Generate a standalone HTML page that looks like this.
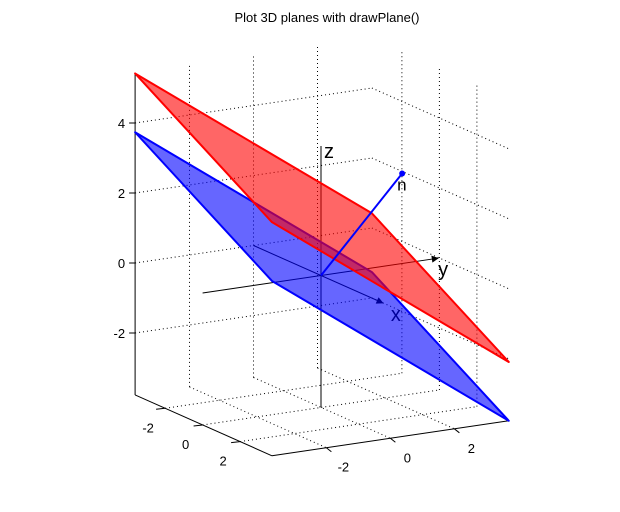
<!DOCTYPE html>
<html><head><meta charset="utf-8"><style>
body{margin:0;background:#fff}
svg{display:block;font-family:"Liberation Sans",Arial,sans-serif}
</style></head><body>
<svg id="chart" width="620" height="512" viewBox="0 0 620 512">
<rect width="620" height="512" fill="#fff"/>
<text x="327" y="22" font-size="13" text-anchor="middle">Plot 3D planes with drawPlane()</text>
<g id="grid"></g><g id="axes3"></g><g id="planes"></g><g id="ticks"></g>
</svg>
<script>
const uLim = [-3.6, 3.7];
const vLim = [-3.7, 3.7];
const zLim = [-3.77, 5.43];
const uTicks = [-2, 0, 2];
const vTicks = [-2, 0, 2];
const zTicks = [-2, 0, 2, 4];
const planeSlope = [-0.344, -0.675];
const planeOffsets = [0, 1.68];
const planeColors = ["blue", "red"];
const normalVec = [1, 1.95, 2.89];

const NS = "http://www.w3.org/2000/svg";
function P(u, v, z) { return [321 + 18.75 * u + 32 * v, 275.5 + 8.33 * u - 4.73 * v - 35 * z]; }
function mk(tag, parent, attrs) {
  const e = document.createElementNS(NS, tag);
  for (const k in attrs) e.setAttribute(k, attrs[k]);
  parent.appendChild(e); return e;
}
function line(parent, a, b, attrs) {
  return mk("line", parent, Object.assign({x1: a[0], y1: a[1], x2: b[0], y2: b[1]}, attrs));
}
const grid = document.getElementById("grid");
const dot = {stroke: "#000", "stroke-width": 1, "stroke-dasharray": "1,3"};
const [u0, u1] = uLim, [v0, v1] = vLim, [z0, z1] = zLim;
vTicks.forEach(v => { const l = line(grid, P(u0, v, z0), P(u0, v, z1), dot);

 });
zTicks.forEach(z => { const l = line(grid, P(u0, v0, z), P(u0, v1, z), dot);

 });
uTicks.forEach(u => { const l = line(grid, P(u, v1, z0), P(u, v1, z1), dot);

 });
zTicks.forEach(z => { const l = line(grid, P(u0, v1, z), P(u1, v1, z), dot);

 });
uTicks.forEach(u => { const l = line(grid, P(u, v0, z0), P(u, v1, z0), dot);

 });
vTicks.forEach(v => { const l = line(grid, P(u0, v, z0), P(u1, v, z0), dot);

 });
const solid = {stroke: "#000", "stroke-width": 1};
[[P(u0, v0, z0), P(u0, v0, z1)], [P(u0, v0, z0), P(u1, v0, z0)], [P(u1, v0, z0), P(u1, v1, z0)]].forEach(([a, b]) => {
  const l = line(grid, a, b, solid);
  
  
});
const tk = document.getElementById("ticks");
zTicks.forEach(z => {
  const p = P(u0, v0, z);
  const l = line(tk, p, [p[0] - 6, p[1]], solid);
  
  
  const t = mk("text", tk, {x: p[0] - 10, y: p[1] + 5, "font-size": 13, "text-anchor": "end"});
  t.textContent = z;
  
  
});
uTicks.forEach(u => {
  const p = P(u, v0, z0);
  const l = line(tk, p, [p[0] - 9, p[1] + 1], solid);
  
  
  const t = mk("text", tk, {x: p[0] - 17, y: p[1] + 24, "font-size": 13, "text-anchor": "middle"});
  t.textContent = u;
  
  
});
vTicks.forEach(v => {
  const p = P(u1, v, z0);
  const l = line(tk, p, [p[0] + 5, p[1] + 4], solid);
  
  
  const t = mk("text", tk, {x: p[0] + 17, y: p[1] + 24, "font-size": 13, "text-anchor": "middle"});
  t.textContent = v;
  
  
});
const ax = document.getElementById("axes3");
mk("defs", ax, {}).innerHTML = '<marker id="ar" viewBox="0 0 10 10" refX="9" refY="5" markerWidth="14" markerHeight="7" markerUnits="userSpaceOnUse" orient="auto"><path d="M0,0L10,5L0,10z" fill="#000"/></marker>';
const xa = line(ax, P(u0, 0, 0), P(3.3, 0, 0), {stroke: "#000", "stroke-width": 1, "marker-end": "url(#ar)"});


const ya = line(ax, P(0, v0, 0), P(0, 3.66, 0), {stroke: "#000", "stroke-width": 1, "marker-end": "url(#ar)"});


const za = line(ax, P(0, 0, -3.77), P(0, 0, 3.7), {stroke: "#000", "stroke-width": 1});


[["x", P(3.3, 0, 0), 8, 18], ["y", P(0, 3.66, 0), 0, 18], ["z", P(0, 0, 3.7), 3, 12]].forEach(([s, p, dx, dy]) => {
  const t = mk("text", ax, {x: p[0] + dx, y: p[1] + dy, "font-size": 20});
  t.textContent = s;
  
  
});
const pl = document.getElementById("planes");
planeOffsets.forEach((c, i) => {
  const z = (u, v) => c + planeSlope[0] * u + planeSlope[1] * v;
  const pts = [[u0, v0], [u1, v0], [u1, v1], [u0, v1]].map(([u, v]) => P(u, v, z(u, v)).join(",")).join(" ");
  const poly = mk("polygon", pl, {points: pts, fill: planeColors[i], "fill-opacity": 0.6, stroke: planeColors[i], "stroke-width": 2, "stroke-linejoin": "round"});
  
  
});
const n0 = P(0, 0, 0), n1 = P(normalVec[0], normalVec[1], normalVec[2]);
const nl = line(pl, n0, n1, {stroke: "blue", "stroke-width": 2});


const nd = mk("circle", pl, {cx: n1[0], cy: n1[1], r: 3, fill: "blue"});


const nt = mk("text", pl, {x: n1[0] - 5, y: n1[1] + 17, "font-size": 17, fill: "#000"});
nt.textContent = "n";


</script>
</body></html>
